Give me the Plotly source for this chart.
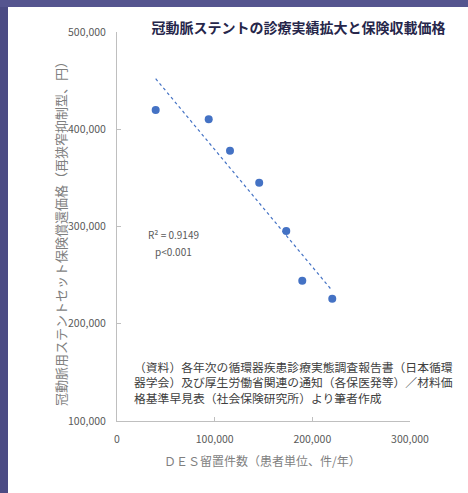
import numpy as np
import plotly.graph_objects as go

# DES placements per year (patients) vs. reimbursement price of drug-eluting stent sets (yen)
des_cases = [39600, 93900, 115700, 145600, 173300, 189700, 220400]
stent_price = [419800, 410200, 377900, 345000, 295400, 244300, 225800]

x_ticks = [0, 100000, 200000, 300000]
y_ticks = [100000, 200000, 300000, 400000, 500000]

title_text = "冠動脈ステントの診療実績拡大と保険収載価格"
x_title = "ＤＥＳ留置件数（患者単位、件/年）"
y_title = "冠動脈用ステントセット保険償還価格（再狭窄抑制型、円）"
r2_text = "R² = 0.9149"
p_text = "p<0.001"
source_lines = [
    "（資料）各年次の循環器疾患診療実態調査報告書（日本循環",
    "器学会）及び厚生労働省関連の通知（各保医発等）／材料価",
    "格基準早見表（社会保険研究所）より筆者作成",
]

JP = "Noto Sans CJK JP"
BLUE = "#4472C4"

# linear trend line over the observed range
slope, intercept = np.polyfit(des_cases, stent_price, 1)
trend_x = np.array([min(des_cases), max(des_cases)])
trend_y = slope * trend_x + intercept

fig = go.Figure()
fig.add_trace(go.Scatter(
    x=trend_x, y=trend_y, mode="lines",
    line=dict(color=BLUE, width=1.2, dash="dot"),
    hoverinfo="skip", showlegend=False,
))
fig.add_trace(go.Scatter(
    x=des_cases, y=stent_price, mode="markers",
    marker=dict(color=BLUE, size=8),
    showlegend=False,
))

W, H = 468, 493
L, R, T, B = 117, 58, 32, 72
pw = W - L - R
ph = H - T - B


def px(xp):
    """pixel x (from left) -> paper x"""
    return (xp - L) / pw


def py(yp):
    """pixel y (from top) -> paper y"""
    return (H - B - yp) / ph


axis_common = dict(
    showgrid=False, zeroline=False, showline=True,
    linecolor="#bfbfbf", linewidth=1,
    ticks="inside", ticklen=4, tickcolor="#bfbfbf",
    tickfont=dict(family=JP, size=10.5, color="#595959"),
    tickformat=",d",
)
fig.update_xaxes(range=[0, 300000], tickvals=x_ticks, ticklabelstandoff=8, **axis_common)
fig.update_yaxes(range=[100000, 500000], tickvals=y_ticks, ticklabelstandoff=8, **axis_common)

# slide frame: dark band along the left and top edges
shapes = [
    dict(type="rect", xref="paper", yref="paper", layer="below",
         x0=px(0), x1=px(8), y0=py(H), y1=py(0),
         fillcolor="#4b4b84", line=dict(width=0)),
    dict(type="rect", xref="paper", yref="paper", layer="below",
         x0=px(0), x1=px(W), y0=py(7), y1=py(0),
         fillcolor="#55558f", line=dict(width=0)),
]

annotations = [
    dict(text=y_title, textangle=-90, x=px(60), y=py(231), xref="paper", yref="paper",
         xanchor="center", yanchor="middle", showarrow=False,
         font=dict(family=JP, size=13, color="#7f7f7f")),
    dict(text=x_title, x=px(262), y=py(460), xref="paper", yref="paper",
         xanchor="center", yanchor="middle", showarrow=False,
         font=dict(family=JP, size=12, color="#7f7f7f")),
    dict(text=r2_text, x=px(173), y=py(235), xref="paper", yref="paper",
         xanchor="center", yanchor="middle", showarrow=False,
         font=dict(family=JP, size=10, color="#595959")),
    dict(text=p_text, x=px(173), y=py(251), xref="paper", yref="paper",
         xanchor="center", yanchor="middle", showarrow=False,
         font=dict(family=JP, size=10, color="#595959")),
    dict(text="<br>".join(source_lines), x=px(132), y=py(382), xref="paper", yref="paper",
         xanchor="left", yanchor="middle", align="left", showarrow=False,
         font=dict(family=JP, size=11.8, color="#404040")),
]

fig.update_layout(
    width=W, height=H,
    margin=dict(l=L, r=R, t=T, b=B),
    paper_bgcolor="white", plot_bgcolor="white",
    title=dict(text="<b>" + title_text + "</b>", x=298.5 / W, y=1 - 28 / H,
               xanchor="center", yanchor="middle",
               font=dict(family=JP, size=14, color="#26264a")),
    shapes=shapes,
    annotations=annotations,
)

fig.write_html("out.html")
